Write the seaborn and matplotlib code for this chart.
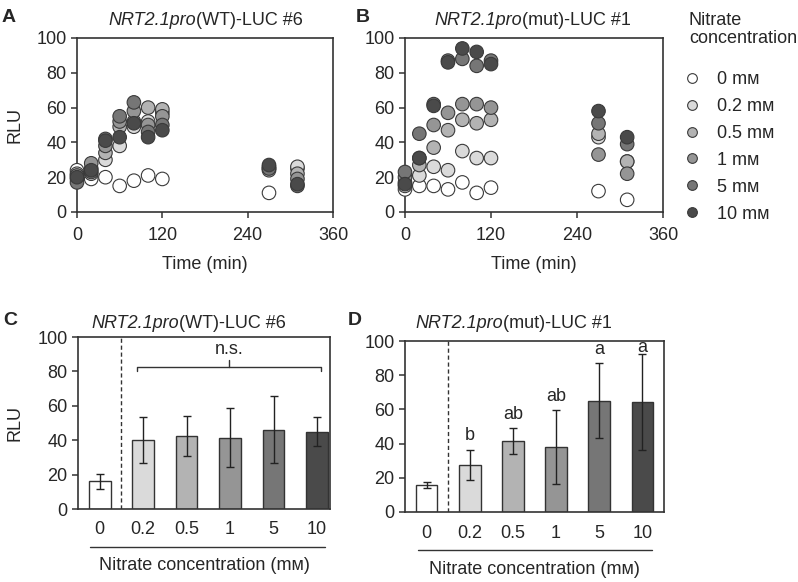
import pandas as pd
import matplotlib.pyplot as plt
import seaborn as sns
from matplotlib.lines import Line2D

sns.set_style("ticks")
plt.rcParams['font.family'] = ['Liberation Sans', 'DejaVu Sans']

# time course data (RLU)
time = [0, 20, 40, 60, 80, 100, 120, 270, 310]
conc_labels = ['0 mᴍ', '0.2 mᴍ', '0.5 mᴍ', '1 mᴍ', '5 mᴍ', '10 mᴍ']

wt_0 = [24, 19, 20, 15, 18, 21, 19, 11, 25]
wt_02 = [22, 22, 30, 38, 49, 52, 57, 25, 26]
wt_05 = [19, 25, 34, 49, 52, 60, 59, 24, 22]
wt_1 = [21, 28, 38, 52, 58, 50, 55, 26, 19]
wt_5 = [17, 23, 42, 55, 63, 46, 50, 25, 15]
wt_10 = [20, 24, 41, 43, 51, 43, 47, 27, 16]

mut_0 = [13, 15, 15, 13, 17, 11, 14, 12, 7]
mut_02 = [15, 21, 26, 24, 35, 31, 31, 43, 29]
mut_05 = [17, 27, 37, 47, 53, 51, 53, 45, 29]
mut_1 = [20, 31, 50, 57, 62, 62, 60, 33, 22]
mut_5 = [23, 45, 62, 87, 88, 84, 87, 51, 39]
mut_10 = [16, 31, 61, 86, 94, 92, 85, 58, 43]

# bar data (mean +/- SD)
bar_cats = ['0', '0.2', '0.5', '1', '5', '10']
wt_mean = [16, 40, 42.5, 41.5, 46, 45]
wt_sd = [4.5, 13.5, 11.5, 17, 19.5, 8.5]
mut_mean = [16, 27.5, 41.5, 38, 65, 64.5]
mut_sd = [1.7, 9, 7.5, 21.5, 22, 28]
mut_letters = ['', 'b', 'ab', 'ab', 'a', 'a']

greys = ['#ffffff', '#dadada', '#b3b3b3', '#959595', '#767676', '#4a4a4a']
edge = '#333333'


def long_df(series):
    rows = []
    for lab, vals in zip(conc_labels, series):
        for t, v in zip(time, vals):
            rows.append({'time': t, 'rlu': v, 'conc': lab})
    return pd.DataFrame(rows)


df_wt = long_df([wt_0, wt_02, wt_05, wt_1, wt_5, wt_10])
df_mut = long_df([mut_0, mut_02, mut_05, mut_1, mut_5, mut_10])

fig = plt.figure(figsize=(7.98, 5.82), dpi=100)
W, H = 798, 582


def px_axes(l, t, r, b):
    return fig.add_axes([l / W, 1 - b / H, (r - l) / W, (b - t) / H])


axA = px_axes(77, 38, 333, 212)
axB = px_axes(405, 38, 663, 212)
axC = px_axes(78, 337, 330, 509)
axD = px_axes(405, 341, 664, 512)


def style_axes(ax):
    for s in ax.spines.values():
        s.set_color(edge)
        s.set_linewidth(1.2)
    ax.tick_params(axis='both', labelsize=13, color=edge, width=1.1, length=4)
    ax.set_ylim(0, 100)
    ax.set_yticks([0, 20, 40, 60, 80, 100])
    ax.set_ylabel('')
    ax.set_xlabel('')


for ax, df in [(axA, df_wt), (axB, df_mut)]:
    sns.scatterplot(data=df, x='time', y='rlu', hue='conc', hue_order=conc_labels,
                    palette=greys, s=95, edgecolor='#3a3a3a', linewidth=0.8,
                    legend=False, ax=ax, clip_on=False, zorder=3)
    style_axes(ax)
    ax.tick_params(axis='x', pad=7)
    ax.set_xlim(0, 360)
    ax.set_xticks([0, 120, 240, 360])
    ax.set_xlabel('Time (min)', fontsize=13)
    ax.xaxis.set_label_coords(0.5, -44 / 174)
    ax.xaxis.label.set_va('top')

axA.set_ylabel('RLU', fontsize=13)
axA.yaxis.set_label_coords(-0.242, 0.5)
axA.yaxis.label.set_va('center')

for ax, mean, sd, lx in [(axC, wt_mean, wt_sd, (0.048, 0.98)), (axD, mut_mean, mut_sd, (0.05, 0.954))]:
    sns.barplot(x=bar_cats, y=mean, hue=bar_cats, palette=greys, legend=False,
                width=0.5, edgecolor=edge, linewidth=1, ax=ax)
    ax.errorbar(range(len(bar_cats)), mean, yerr=sd, fmt='none', ecolor='#222222',
                elinewidth=1, capsize=3, capthick=1)
    style_axes(ax)
    ax.tick_params(axis='x', length=0, pad=9)
    ax.axvline(0.5, color=edge, ls=(0, (3, 2)), lw=1)
    hb = ax.get_position().height * H
    ax.plot(list(lx), [-38 / hb, -38 / hb], color=edge, lw=1, transform=ax.transAxes, clip_on=False)
    ax.set_xlabel('Nitrate concentration (mᴍ)', fontsize=13)
    ax.xaxis.set_label_coords(0.5, -57 / hb)
    ax.xaxis.label.set_va('center')

axC.set_xlim(-0.5, 5.3)
axD.set_xlim(-0.5, 5.5)
axC.set_ylabel('RLU', fontsize=13)
axC.yaxis.set_label_coords(-0.25, 0.5)
axC.yaxis.label.set_va('center')

# n.s. bracket
axC.plot([0.85, 0.85, 5.1, 5.1], [80.3, 82.5, 82.5, 80.3], color=edge, lw=1)
axC.plot([2.975, 2.975], [82.5, 86.5], color=edge, lw=1)
axC.text(2.975, 88, 'n.s.', ha='center', va='bottom', fontsize=13)

# significance letters
for i, (m, s, let) in enumerate(zip(mut_mean, mut_sd, mut_letters)):
    if let:
        axD.text(i, min(m + s + 3, 91.5), let, ha='center', va='bottom', fontsize=13)

# titles (italic gene name + upright construct), panel letters
renderer = fig.canvas.get_renderer()


def panel_title(xc, yb, ital, rest):
    t1 = fig.text(0, 1 - yb / H, ital, style='italic', fontsize=13, va='baseline')
    t2 = fig.text(0, 1 - yb / H, rest, fontsize=13, va='baseline')
    w1 = t1.get_window_extent(renderer).width
    w2 = t2.get_window_extent(renderer).width
    x0 = xc - (w1 + w2) / 2
    t1.set_x(x0 / W)
    t2.set_x((x0 + w1) / W)


panel_title(206, 25, 'NRT2.1pro', '(WT)-LUC #6')
panel_title(533, 25, 'NRT2.1pro', '(mut)-LUC #1')
panel_title(189, 328, 'NRT2.1pro', '(WT)-LUC #6')
panel_title(514, 328, 'NRT2.1pro', '(mut)-LUC #1')
for lab, x, y in [('A', 2, 22), ('B', 356, 22), ('C', 3, 325), ('D', 348, 325)]:
    fig.text(x / W, 1 - y / H, lab, ha='left', va='baseline', fontsize=14, weight='bold')

# legend
fig.text(689 / W, 1 - 12 / H, 'Nitrate\nconcentration', ha='left', va='top',
         fontsize=13, linespacing=1.05)
handles = [Line2D([], [], marker='o', ls='', markersize=7, markerfacecolor=c,
                  markeredgecolor='#3a3a3a', markeredgewidth=0.8) for c in greys]
fig.legend(handles, conc_labels, loc='upper left', bbox_to_anchor=(681 / W, 1 - 71 / H),
           frameon=False, fontsize=13, borderpad=0, borderaxespad=0,
           labelspacing=0.55, handletextpad=0.79, handlelength=1.2)

fig.savefig('out.png', dpi=100)
